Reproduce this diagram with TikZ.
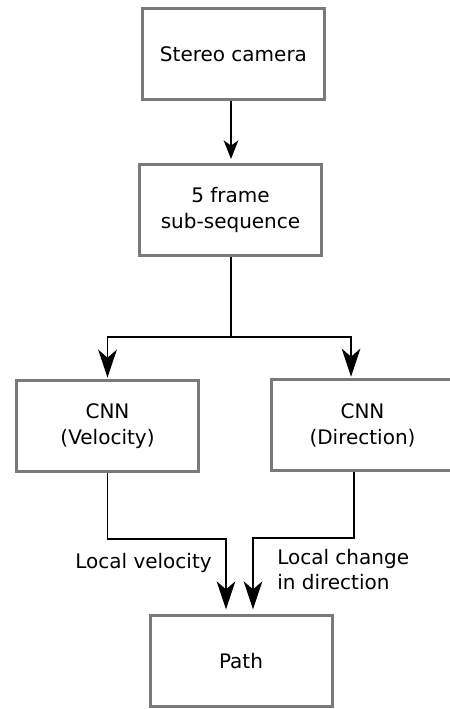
\documentclass[tikz,border=0pt]{standalone}
\usepackage{fontspec}
\setmainfont{DejaVu Sans}
\usetikzlibrary{arrows.meta}
\definecolor{boxgray}{RGB}{122,122,122}

\begin{document}
\begin{tikzpicture}[x=.75pt,y=-.75pt,font=\fontsize{15pt}{19.5pt}\selectfont,
  >={Stealth[length=21pt,width=14pt,inset=6pt]},
  stage/.style={draw=boxgray,line width=2.25pt,minimum width=136.5pt,minimum height=68.25pt,align=center,inner sep=2pt},
  flow/.style={line width=1.2pt}]
\useasboundingbox (0,0) rectangle (449,709);
\node[stage] (cam) at (233.5,54.5) {Stereo camera};
\node[stage] (seq) at (230.5,210) {5 frame\\sub-sequence};
\node[stage] (vel) at (107.5,426) {CNN\\(Velocity)};
\node[stage] (dir) at (362.5,425) {CNN\\(Direction)};
\node[stage] (path) at (241,661) {Path};

\coordinate (split) at (231,337);
\draw[flow,shorten >=3pt,-{Stealth[length=14pt,width=11pt,inset=4pt]}] (cam.south -| split) -- (seq.north -| split);
\draw[flow] (seq.south -| split) -- (split);
\draw[flow,shorten >=1pt,->] (split) -| (vel.north);
\draw[flow,shorten >=1pt,->] (split) -| ([xshift=-8.6pt]dir.north);

\draw[flow,shorten >=3.5pt,->] (vel.south) -- ++(0,66) -| ([xshift=-11.25pt]path.north);
\draw[flow,shorten >=3.5pt,->] ([xshift=-6.4pt]dir.south) -- ++(0,66) -| ([xshift=9pt]path.north);
\node[inner sep=0] (lvel) at (143.5,563) {Local velocity};
\node[inner sep=0,anchor=west,align=left,font=\fontsize{15pt}{18.75pt}\selectfont] (ldir) at (277,570) {Local change\\in direction};
\end{tikzpicture}
\end{document}
